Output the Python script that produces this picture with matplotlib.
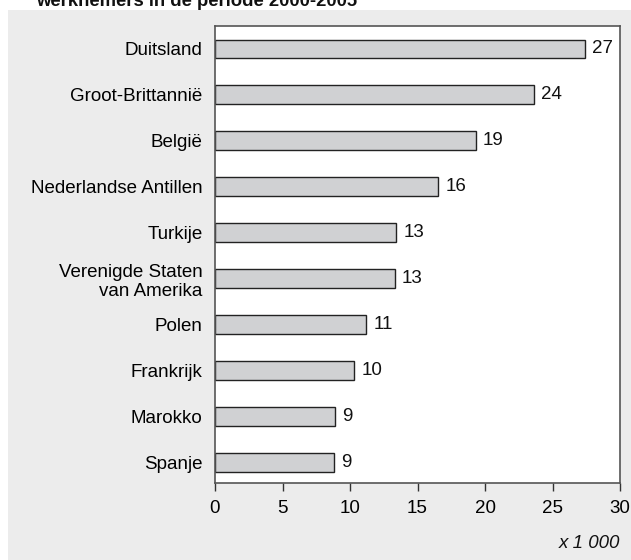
import matplotlib.pyplot as plt
from matplotlib.patches import Rectangle

plt.rcParams['font.family'] = ['Liberation Sans', 'DejaVu Sans']

landen = ["Duitsland", "Groot-Brittannië", "België", "Nederlandse Antillen", "Turkije",
          "Verenigde Staten\nvan Amerika", "Polen", "Frankrijk", "Marokko", "Spanje"]
aantallen = [27.4, 23.6, 19.3, 16.5, 13.4, 13.3, 11.2, 10.3, 8.9, 8.8]
labels_aantal = ["27", "24", "19", "16", "13", "13", "11", "10", "9", "9"]
ticks_x = [0, 5, 10, 15, 20, 25, 30]

W, H = 631, 560
fig = plt.figure(figsize=(W / 100, H / 100), dpi=100)
fig.patch.set_facecolor("white")

# grijze achtergrond
fig.patches.append(Rectangle((8 / W, 0), 1, 1 - 10 / H, transform=fig.transFigure,
                             facecolor="#ececec", edgecolor="none", zorder=-10))

fig.text(36 / W, 1 - 6 / H, "werknemers in de periode 2000-2005", fontsize=13.3,
         fontweight="bold", ha="left", va="baseline", color="#111111")

ax = fig.add_axes([215 / W, 1 - 483 / H, (620 - 215) / W, (483 - 26) / H])
ax.set_facecolor("white")
ax.set_zorder(5)

posities = list(range(len(landen)))
balken = ax.barh(posities, aantallen, height=0.41, color="#d0d1d3", edgecolor="#222222", linewidth=1.0)

for pos, waarde, lab in zip(posities, aantallen, labels_aantal):
    ax.text(waarde + 0.55, pos, lab, va="center", ha="left", fontsize=13.5, color="#111111")

ax.set_xlim(0, 30)
ax.set_ylim(len(landen) - 0.55, -0.5)
ax.set_xticks(ticks_x)
ax.set_xticklabels([str(t) for t in ticks_x], fontsize=13.5)
ax.set_yticks(posities)
ax.set_yticklabels(landen, fontsize=13.5, linespacing=1.2)
ax.tick_params(axis="x", length=6, width=1.0, color="#333333", pad=6)
ax.tick_params(axis="y", length=0, pad=9)

for s in ax.spines.values():
    s.set_color("#555555")
    s.set_linewidth(1.2)

fig.text(620 / W, 1 - 543 / H, "x 1 000", fontsize=13.5, fontstyle="italic",
         ha="right", va="center", color="#111111")

fig.savefig("out.png", dpi=100)
